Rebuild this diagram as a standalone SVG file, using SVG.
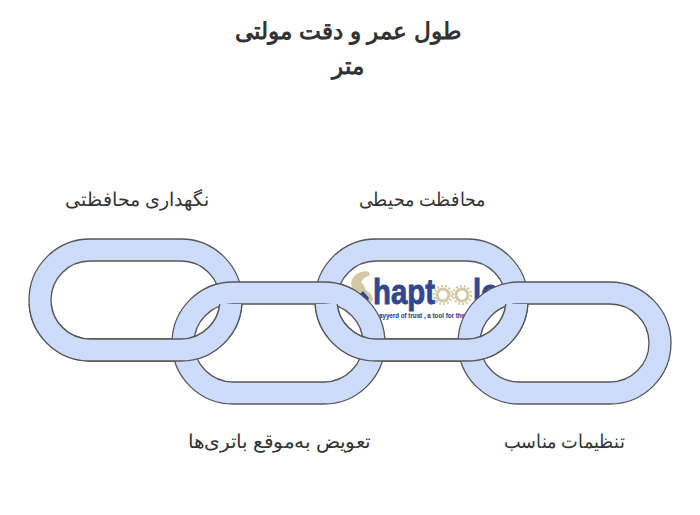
<svg xmlns="http://www.w3.org/2000/svg" width="700" height="515" viewBox="0 0 700 515">
<style>
text{font-family:"Liberation Sans","Noto Sans",sans-serif;fill:#333}
.t{font-size:23.4px;font-weight:700;text-anchor:middle}
.l{font-size:18.5px;text-anchor:middle}
.r{fill:#cddcfb;fill-rule:evenodd;stroke:#555;stroke-width:1.3}
.g{fill:none;stroke:#d2c8a6}
.b{fill:#33478f;stroke:#33478f;font-weight:700}
</style>
<defs>
<path id="ring" class="r" d="M61 0H152A61 61 0 0 1 152 122H61A61 61 0 0 1 61 0ZM61 22A39 39 0 0 0 61 100H152A39 39 0 0 0 152 22Z"/>
<clipPath id="low"><rect x="0" y="304" width="700" height="100"/></clipPath>
</defs>
<rect width="700" height="515" fill="#fff"/>
<g id="title"><text class="t" x="348" y="39" textLength="227" lengthAdjust="spacingAndGlyphs">طول عمر و دقت مولتی</text><text class="t" x="348" y="74">متر</text></g>
<g id="logo">
<path fill="#d2c8a6" d="M351 283a14 14 0 0 1 18-11l1 3-6 3-3 4 3 3 1 4 6 5 2 5-2 4-5-4-6-7-8-4z"/>
<path fill="#33478f" d="M358 296l5-5 6 7-2 5z"/>
<g class="g"><circle cx="443" cy="295" r="6" stroke-width="3"/><circle cx="462" cy="295" r="6" stroke-width="3"/>
<circle cx="443" cy="295" r="9" stroke-width="2.2" stroke-dasharray="2 2"/><circle cx="462" cy="295" r="9" stroke-width="2.2" stroke-dasharray="2 2"/></g>
<text class="b" x="373" y="304" font-size="35" stroke-width=".9" textLength="62" lengthAdjust="spacingAndGlyphs">hapt</text>
<text class="b" x="473" y="304" font-size="35" stroke-width=".9" textLength="26" lengthAdjust="spacingAndGlyphs">lo</text>
<text class="b" x="379" y="318" font-size="8" stroke-width=".15" textLength="86" lengthAdjust="spacingAndGlyphs">ayyerd of trust , a tool for the</text>
</g>
<g id="connectors">
<use href="#ring" x="29" y="239"/>
<use href="#ring" x="315" y="239"/>
<use href="#ring" x="172" y="282"/>
<use href="#ring" x="458" y="282"/>
<g clip-path="url(#low)">
<use href="#ring" x="29" y="239"/>
<use href="#ring" x="315" y="239"/>
</g>
</g>
<g id="n1"><text class="l" x="137" y="206">نگهداری محافظتی</text></g>
<g id="n2"><text class="l" x="422" y="206" textLength="127" lengthAdjust="spacingAndGlyphs">محافظت محیطی</text></g>
<g id="n3"><text class="l" x="279" y="448" textLength="183" lengthAdjust="spacingAndGlyphs">تعویض به‌موقع باتری‌ها</text></g>
<g id="n4"><text class="l" x="564" y="448" textLength="121" lengthAdjust="spacingAndGlyphs">تنظیمات مناسب</text></g>
</svg>
